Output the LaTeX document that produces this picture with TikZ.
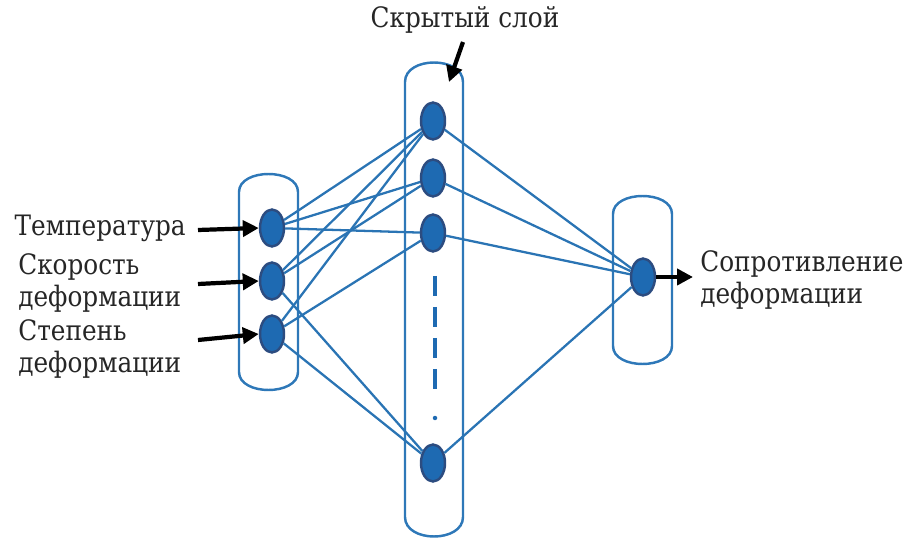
\documentclass[tikz,border=0pt]{standalone}
\usepackage{fontspec}
\setmainfont{DejaVu Serif}
\newfontfamily\serifru[FakeStretch=0.88]{DejaVu Serif}
\usetikzlibrary{shapes.geometric,arrows.meta}
\definecolor{lay}{HTML}{2E78B8}
\definecolor{edg}{HTML}{2A74B4}
\definecolor{nfill}{HTML}{1E6AB2}
\definecolor{nbord}{HTML}{2C4C80}
\tikzset{
  neuron/.style={ellipse,draw=nbord,fill=nfill,line width=1.4pt,minimum width=0.48cm,minimum height=0.74cm,inner sep=0pt},
  layer/.style={draw=lay,line width=1.4pt},
  conn/.style={draw=edg,line width=1.3pt},
  inarrow/.style={line width=2.4pt,-{Triangle[length=0.32cm,width=0.32cm]}},
  lbl/.style={font=\serifru\fontsize{16}{18}\selectfont,align=left,inner sep=0pt,text=black!85}
}
\begin{document}
\begin{tikzpicture}[x=0.02cm,y=-0.02cm]
\useasboundingbox (0,0) rectangle (916,540);
% layers
\draw[layer] (239,192) -- (239,372) .. controls (239,396) and (298,396) .. (298,372) -- (298,192) .. controls (298,168) and (239,168) .. (239,192) -- cycle;
\draw[layer] (405,82) -- (405,517) .. controls (405,543) and (463,543) .. (463,517) -- (463,82) .. controls (463,56) and (405,56) .. (405,82) -- cycle;
\draw[layer] (613,214) -- (613,346) .. controls (613,370) and (672,370) .. (672,346) -- (672,214) .. controls (672,190) and (613,190) .. (613,214) -- cycle;
% nodes
\node[neuron] (i1) at (272,228) {};
\node[neuron] (i2) at (272,281) {};
\node[neuron] (i3) at (272,334) {};
\node[neuron] (h1) at (433,121) {};
\node[neuron] (h2) at (433,178) {};
\node[neuron] (h3) at (433,233) {};
\node[neuron] (hn) at (433,463) {};
\node[neuron] (o1) at (643,277) {};
% dashes
\coordinate (d1) at (435,276);
\coordinate (d2) at (435,397);
\draw[draw=nfill,line width=2.3pt,dash pattern=on 0.4cm off 0.22cm] (d1) -- (d2);
\node[circle,fill=nfill,inner sep=0pt,minimum size=0.09cm] (dot) at (435,418) {};
% connections
\foreach \a/\b in {i1/h1,i1/h2,i1/h3,i2/h1,i2/h2,i2/hn,i3/h1,i3/h3,i3/hn,h1/o1,h2/o1,h3/o1,hn/o1}
  \draw[conn] (\a) -- (\b);
% labels
\node[lbl,anchor=east] (t1) at (186,228) {Температура};
\node[lbl,anchor=west] (t2) at (18,283) {Скорость\\деформации};
\node[lbl,anchor=west] (t3) at (18,349) {Степень\\деформации};
\node[lbl,anchor=west] (t4) at (700,280) {Сопротивление\\деформации};
\node[lbl] (title) at (465,20) {Скрытый слой};
% arrows
\coordinate (a1) at (198,230);
\coordinate (a2) at (198,284);
\coordinate (a3) at (198,340);
\draw[inarrow] (a1) -- (i1.west);
\draw[inarrow] (a2) -- (i2.west);
\draw[inarrow] (a3) -- (i3.west);
\coordinate (oa) at (693,277);
\draw[inarrow] (o1.east) -- (oa);
\coordinate (ta) at (463,42);
\coordinate (tb) at (449,82);
\draw[inarrow] (ta) -- (tb);
\end{tikzpicture}
\end{document}
